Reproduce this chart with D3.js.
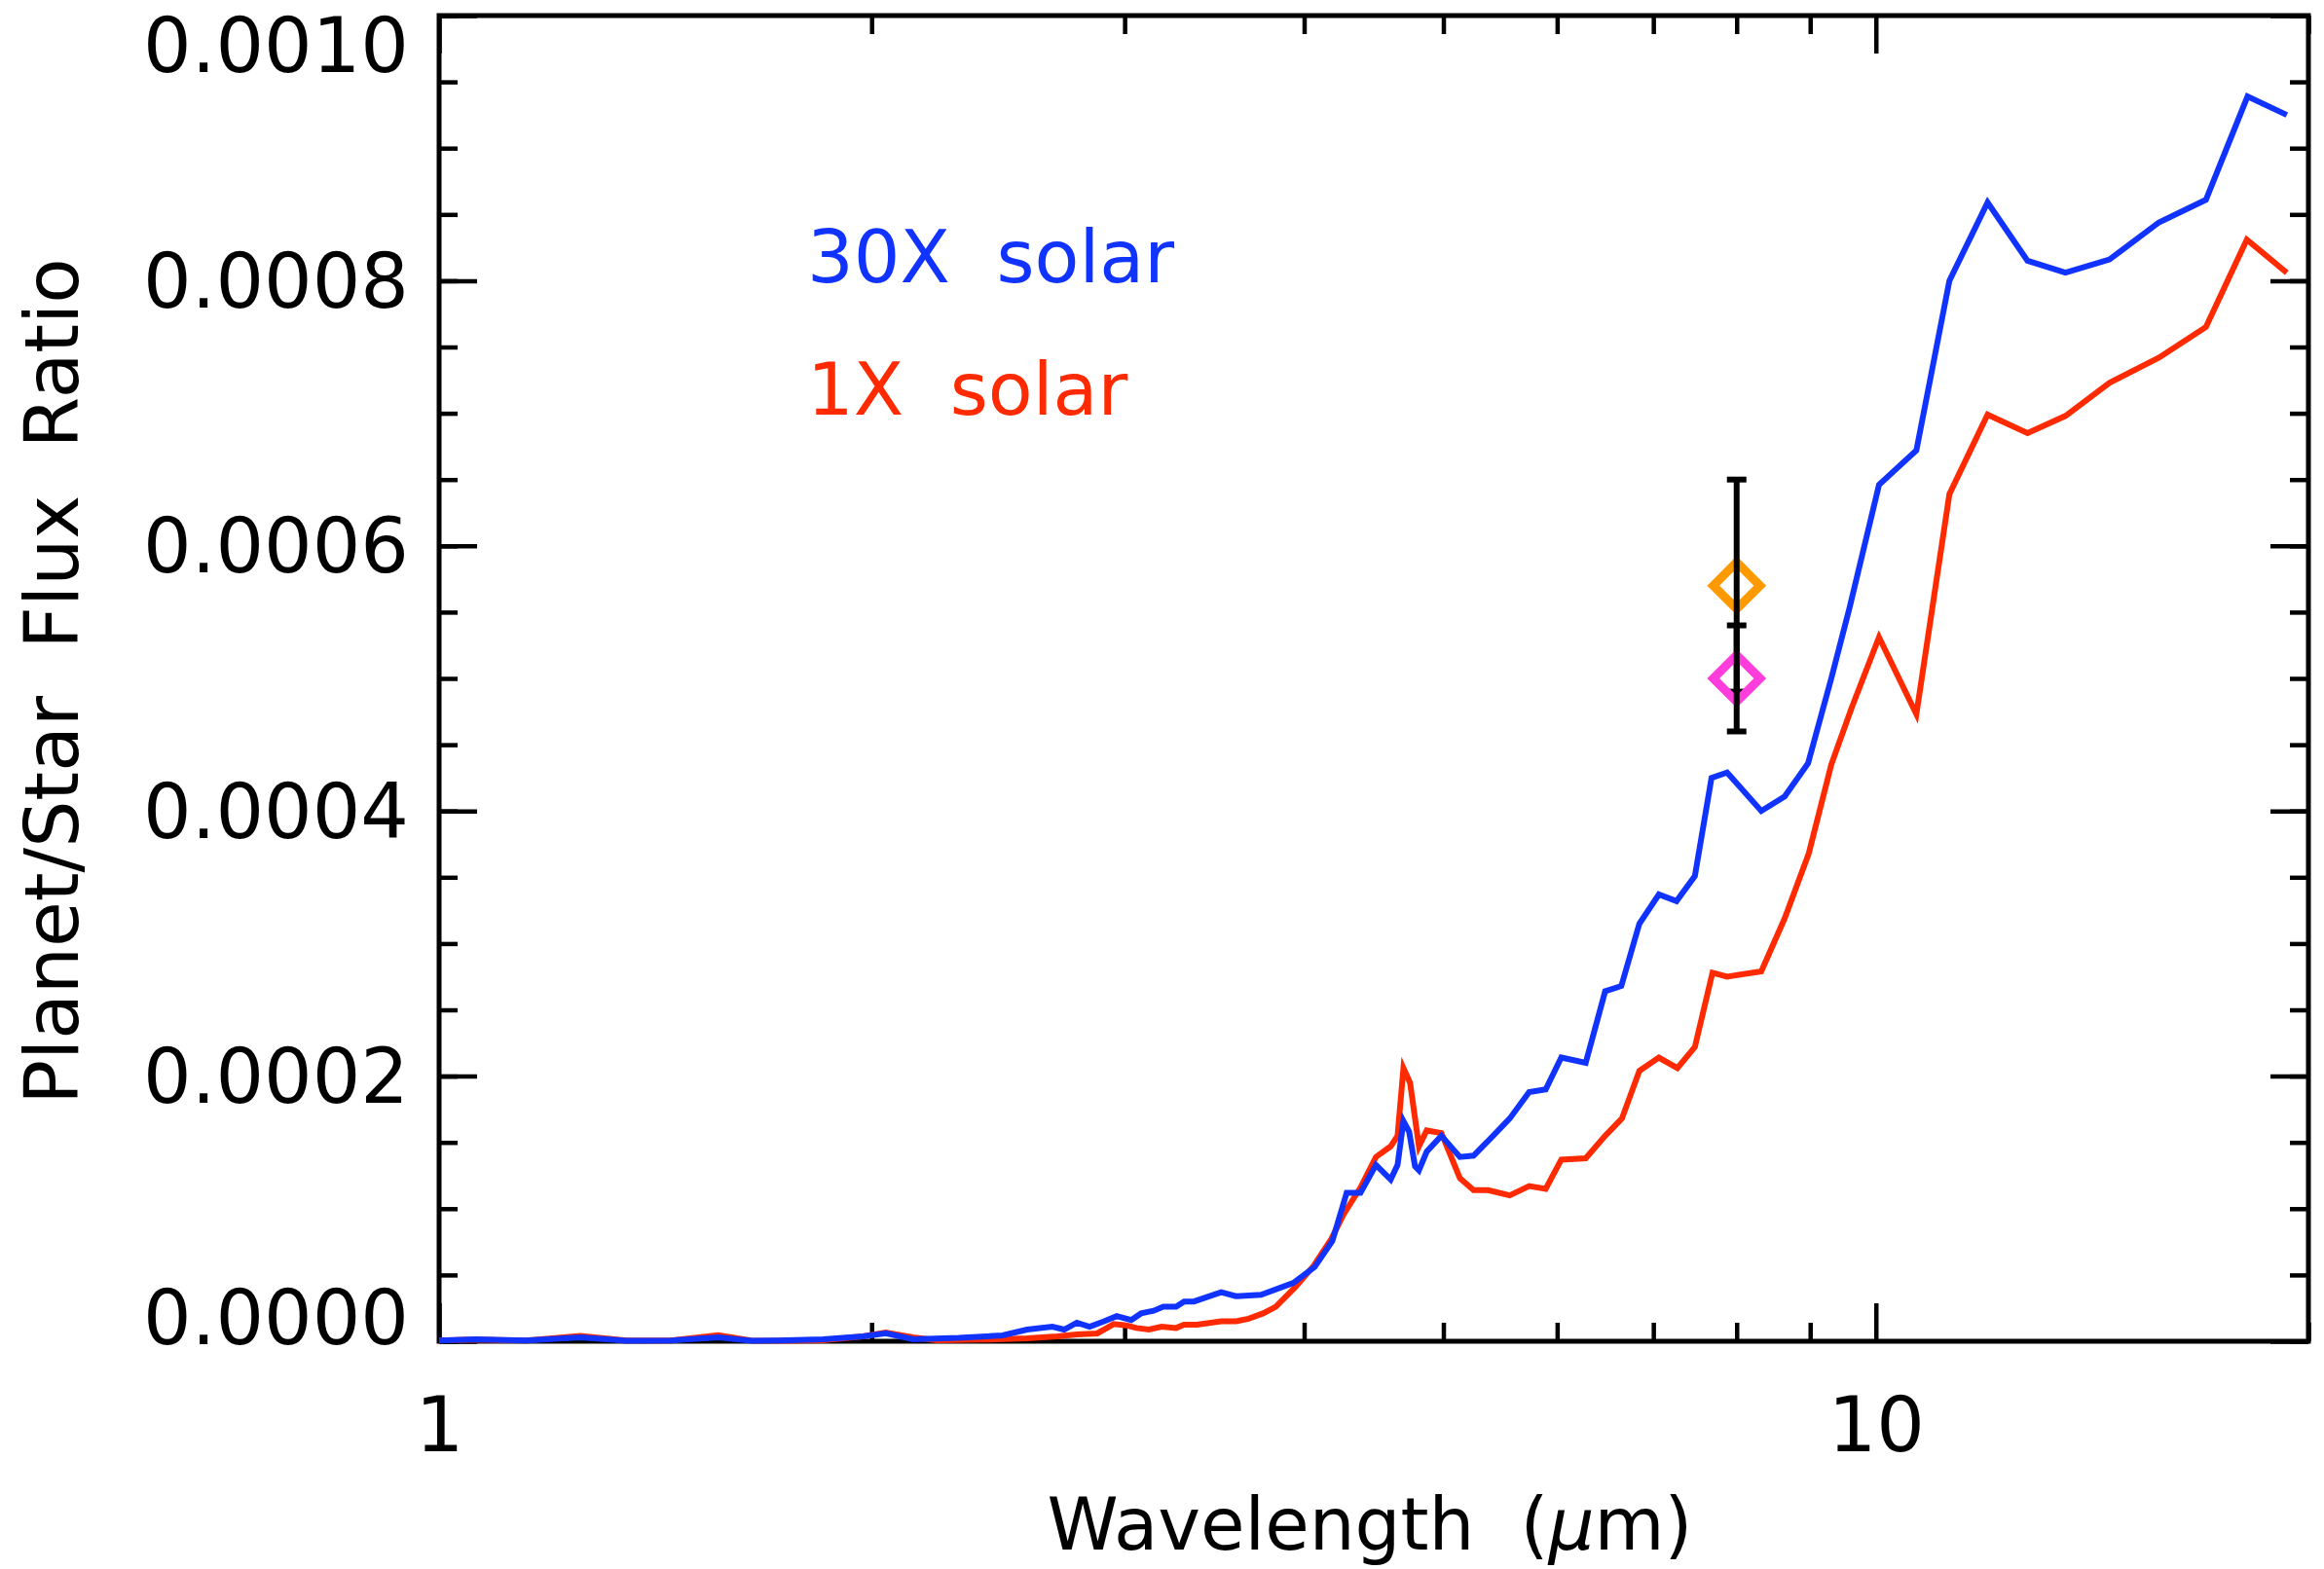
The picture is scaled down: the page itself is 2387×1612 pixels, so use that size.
<!DOCTYPE html>
<html>
<head>
<meta charset="utf-8">
<script src="https://cdn.jsdelivr.net/npm/d3@7"></script>
<style>
  html, body { margin: 0; padding: 0; background: #fff; }
  svg { display: block; }
  text { font-family: "DejaVu Sans", sans-serif; fill: #000; }
</style>
</head>
<body>
<div id="chart"></div>
<script>
'use strict'

// model spectra, 30X solar metallicity (wavelength in micron, planet/star flux ratio)
const wave30x = [1.00, 1.06, 1.15, 1.254, 1.35, 1.45, 1.564, 1.65, 1.722, 1.85, 1.973, 2.046, 2.137, 2.30,
    2.467, 2.566, 2.672, 2.723, 2.779, 2.836, 2.903, 2.962, 3.032, 3.080, 3.143, 3.192, 3.258, 3.300, 3.352,
    3.502, 3.585, 3.733, 3.931, 4.068, 4.185, 4.282, 4.378, 4.488, 4.595, 4.646, 4.690, 4.733, 4.778, 4.808,
    4.868, 4.984, 5.134, 5.248, 5.415, 5.561, 5.737, 5.891, 6.040, 6.281, 6.48, 6.65, 6.845, 7.062, 7.265,
    7.482, 7.684, 7.878, 8.322, 8.64, 8.97, 9.31, 9.59, 10.05, 10.67, 11.25, 11.96, 12.75, 13.55, 14.54,
    15.74, 16.97, 18.14, 19.32];
const flux30x = [0.0000005, 0.0000015, 0.0000005, 0.000003, 0.0000003, 0.0000005, 0.000003, 0.0000003,
    0.0000005, 0.0000015, 0.0000037, 0.000006, 0.0000015, 0.0000025, 0.0000044, 0.0000088, 0.000011,
    0.0000088, 0.000014, 0.000011, 0.000015, 0.000019, 0.000016, 0.000021, 0.000023, 0.000026, 0.000026,
    0.000030, 0.000030, 0.000037, 0.000034, 0.000035, 0.000044, 0.000056, 0.0000756, 0.000112, 0.000112,
    0.000133, 0.000122, 0.000133, 0.000166, 0.000158, 0.000132, 0.000129, 0.000143, 0.000155, 0.000139,
    0.000140, 0.000155, 0.000168, 0.000188, 0.000190, 0.000214, 0.000210, 0.000264, 0.000268, 0.000315,
    0.000337, 0.000332, 0.000351, 0.000425, 0.000429, 0.000400, 0.000411, 0.000436, 0.000500, 0.000554,
    0.000646, 0.000672, 0.000800, 0.000859, 0.000815, 0.000806, 0.000816, 0.000844, 0.000861, 0.000939,
    0.000925];

// model spectra, 1X solar metallicity
const wave1x = [1.00, 1.06, 1.15, 1.254, 1.35, 1.45, 1.564, 1.65, 1.722, 1.85, 1.973, 2.046, 2.137, 2.22,
    2.40, 2.566, 2.693, 2.779, 2.871, 2.948, 3.009, 3.057, 3.119, 3.183, 3.258, 3.300, 3.368, 3.502, 3.585,
    3.659, 3.745, 3.822, 3.945, 4.062, 4.177, 4.263, 4.378, 4.488, 4.595, 4.646, 4.690, 4.740, 4.808, 4.868,
    4.984, 5.134, 5.248, 5.372, 5.561, 5.737, 5.891, 6.040, 6.281, 6.481, 6.656, 6.845, 7.062, 7.275, 7.482,
    7.696, 7.878, 8.322, 8.64, 8.98, 9.31, 9.62, 10.05, 10.67, 11.25, 11.96, 12.75, 13.55, 14.54, 15.74,
    16.97, 18.12, 19.32];
const flux1x = [0.0000005, 0.0000012, 0.0000005, 0.000004, 0.0000005, 0.0000005, 0.0000045, 0.0000005,
    0.0000003, 0.0000008, 0.0000037, 0.0000066, 0.000003, 0.0000007, 0.0000012, 0.0000022, 0.0000037,
    0.0000051, 0.0000059, 0.000013, 0.000012, 0.000010, 0.0000088, 0.000011, 0.000010, 0.0000125,
    0.0000125, 0.000015, 0.000015, 0.000017, 0.000021, 0.000026, 0.000041, 0.000057, 0.000077, 0.000096,
    0.000116, 0.000139, 0.000147, 0.000155, 0.000206, 0.000195, 0.000147, 0.000159, 0.000157, 0.000123,
    0.000114, 0.000114, 0.000110, 0.000117, 0.000115, 0.000137, 0.000138, 0.000155, 0.000168, 0.000204,
    0.000214, 0.000206, 0.000222, 0.000278, 0.000275, 0.000279, 0.000319, 0.000368, 0.000435, 0.000478,
    0.000531, 0.000473, 0.000639, 0.000699, 0.000685, 0.000698, 0.000723, 0.000742, 0.000765, 0.000831,
    0.000806];

// observed eclipse depths at 8 micron
const obsWave = [8.0, 8.0];
const obsFlux = [0.00057, 0.00050];
const obsErr = [0.00008, 0.00004];
const obsColors = ["#ff9900", "#ff3ddc"];

const legendLabels = ["30X  solar", "1X  solar"];
const seriesColors = ["#1133ff", "#ff2a00"];

const xMajorTicks = [1, 10];
const xMinorTicks = [2, 3, 4, 5, 6, 7, 8, 9, 20];
const yMajorTicks = [0, 0.0002, 0.0004, 0.0006, 0.0008, 0.0010];
const yMinorTicks = d3.range(0, 0.00100001, 0.00005);

const W = 2387, H = 1612;
const plot = {left: 451, right: 2371, top: 16, bottom: 1378};

const svg = d3.select("#chart").append("svg")
    .attr("width", W)
    .attr("height", H);

svg.append("rect").attr("width", W).attr("height", H).attr("fill", "#fff");

const x = d3.scaleLog().domain([1, 20]).range([plot.left, plot.right]);
const y = d3.scaleLinear().domain([0, 0.001]).range([plot.bottom, plot.top]);

const majorLen = 39, minorLen = 19;

function styleAxis(g) {
    g.select(".domain").remove();
    g.selectAll(".tick line").attr("stroke", "#000").attr("stroke-width", 4.5);
    g.selectAll(".tick text").attr("font-size", 78).attr("font-family", "DejaVu Sans").attr("fill", "#000");
}

// bottom axis
svg.append("g")
    .attr("transform", `translate(0, ${plot.bottom})`)
    .call(d3.axisBottom(x).tickValues(xMinorTicks).tickSize(-minorLen).tickFormat(""))
    .call(styleAxis);
svg.append("g")
    .attr("transform", `translate(0, ${plot.bottom})`)
    .call(d3.axisBottom(x).tickValues(xMajorTicks).tickSize(-majorLen).tickPadding(58).tickFormat(d3.format("d")))
    .call(styleAxis);

// top axis
svg.append("g")
    .attr("transform", `translate(0, ${plot.top})`)
    .call(d3.axisTop(x).tickValues(xMinorTicks).tickSize(-minorLen).tickFormat(""))
    .call(styleAxis);
svg.append("g")
    .attr("transform", `translate(0, ${plot.top})`)
    .call(d3.axisTop(x).tickValues(xMajorTicks).tickSize(-majorLen).tickFormat(""))
    .call(styleAxis);

// left axis
svg.append("g")
    .attr("transform", `translate(${plot.left}, 0)`)
    .call(d3.axisLeft(y).tickValues(yMinorTicks).tickSize(-minorLen).tickFormat(""))
    .call(styleAxis);
const yAxisG = svg.append("g")
    .attr("transform", `translate(${plot.left}, 0)`)
    .call(d3.axisLeft(y).tickValues(yMajorTicks).tickSize(-majorLen).tickPadding(31).tickFormat(d3.format(".4f")))
    .call(styleAxis);

// keep the end labels inside the frame
yAxisG.selectAll(".tick text")
    .attr("dy", null)
    .attr("dominant-baseline", "central")
    .attr("y", d => {
        const c = Math.max(46, Math.min(plot.bottom - 25, y(d)));
        return c - y(d);
    });

// right axis
svg.append("g")
    .attr("transform", `translate(${plot.right}, 0)`)
    .call(d3.axisRight(y).tickValues(yMinorTicks).tickSize(-minorLen).tickFormat(""))
    .call(styleAxis);
svg.append("g")
    .attr("transform", `translate(${plot.right}, 0)`)
    .call(d3.axisRight(y).tickValues(yMajorTicks).tickSize(-majorLen).tickFormat(""))
    .call(styleAxis);

// frame
svg.append("rect")
    .attr("x", plot.left)
    .attr("y", plot.top)
    .attr("width", plot.right - plot.left)
    .attr("height", plot.bottom - plot.top)
    .attr("fill", "none")
    .attr("stroke", "#000")
    .attr("stroke-width", 5);

// spectra
const line = d3.line()
    .x(d => x(d[0]))
    .y(d => y(d[1]));

svg.append("path")
    .datum(d3.zip(wave1x, flux1x))
    .attr("d", line)
    .attr("fill", "none")
    .attr("stroke", seriesColors[1])
    .attr("stroke-width", 6);

svg.append("path")
    .datum(d3.zip(wave30x, flux30x))
    .attr("d", line)
    .attr("fill", "none")
    .attr("stroke", seriesColors[0])
    .attr("stroke-width", 6);

// data points with error bars
const diamond = d3.symbol().type(d3.symbolSquare).size(1150);
const capW = 10;
obsWave.forEach((w, i) => {
    const cx = x(w), cy = y(obsFlux[i]);
    const yHi = y(obsFlux[i] + obsErr[i]), yLo = y(obsFlux[i] - obsErr[i]);
    svg.append("path")
        .attr("d", diamond())
        .attr("transform", `translate(${cx}, ${cy}) rotate(45)`)
        .attr("fill", "none")
        .attr("stroke", obsColors[i])
        .attr("stroke-width", 9);
    const eb = svg.append("g").attr("stroke", "#000").attr("stroke-width", 6);
    eb.append("line").attr("x1", cx).attr("x2", cx).attr("y1", yHi).attr("y2", yLo);
    eb.append("line").attr("x1", cx - capW).attr("x2", cx + capW).attr("y1", yHi).attr("y2", yHi);
    eb.append("line").attr("x1", cx - capW).attr("x2", cx + capW).attr("y1", yLo).attr("y2", yLo);
});

// legend
legendLabels.forEach((t, i) => {
    svg.append("text")
        .attr("x", 829)
        .attr("y", [290, 426][i])
        .attr("font-size", 75)
        .style("fill", seriesColors[i])
        .style("white-space", "pre")
        .text(t);
});

// axis titles
const xTitle = svg.append("text")
    .attr("x", 1407)
    .attr("y", 1592)
    .attr("text-anchor", "middle")
    .attr("font-size", 74)
    .style("white-space", "pre");
xTitle.append("tspan").text("Wavelength  (");
xTitle.append("tspan").attr("font-style", "italic").text("\u03bc");
xTitle.append("tspan").text("m)");

svg.append("text")
    .attr("transform", `translate(80, 700) rotate(-90)`)
    .attr("text-anchor", "middle")
    .attr("font-size", 76)
    .style("white-space", "pre")
    .text("Planet/Star  Flux  Ratio");
</script>
</body>
</html>
